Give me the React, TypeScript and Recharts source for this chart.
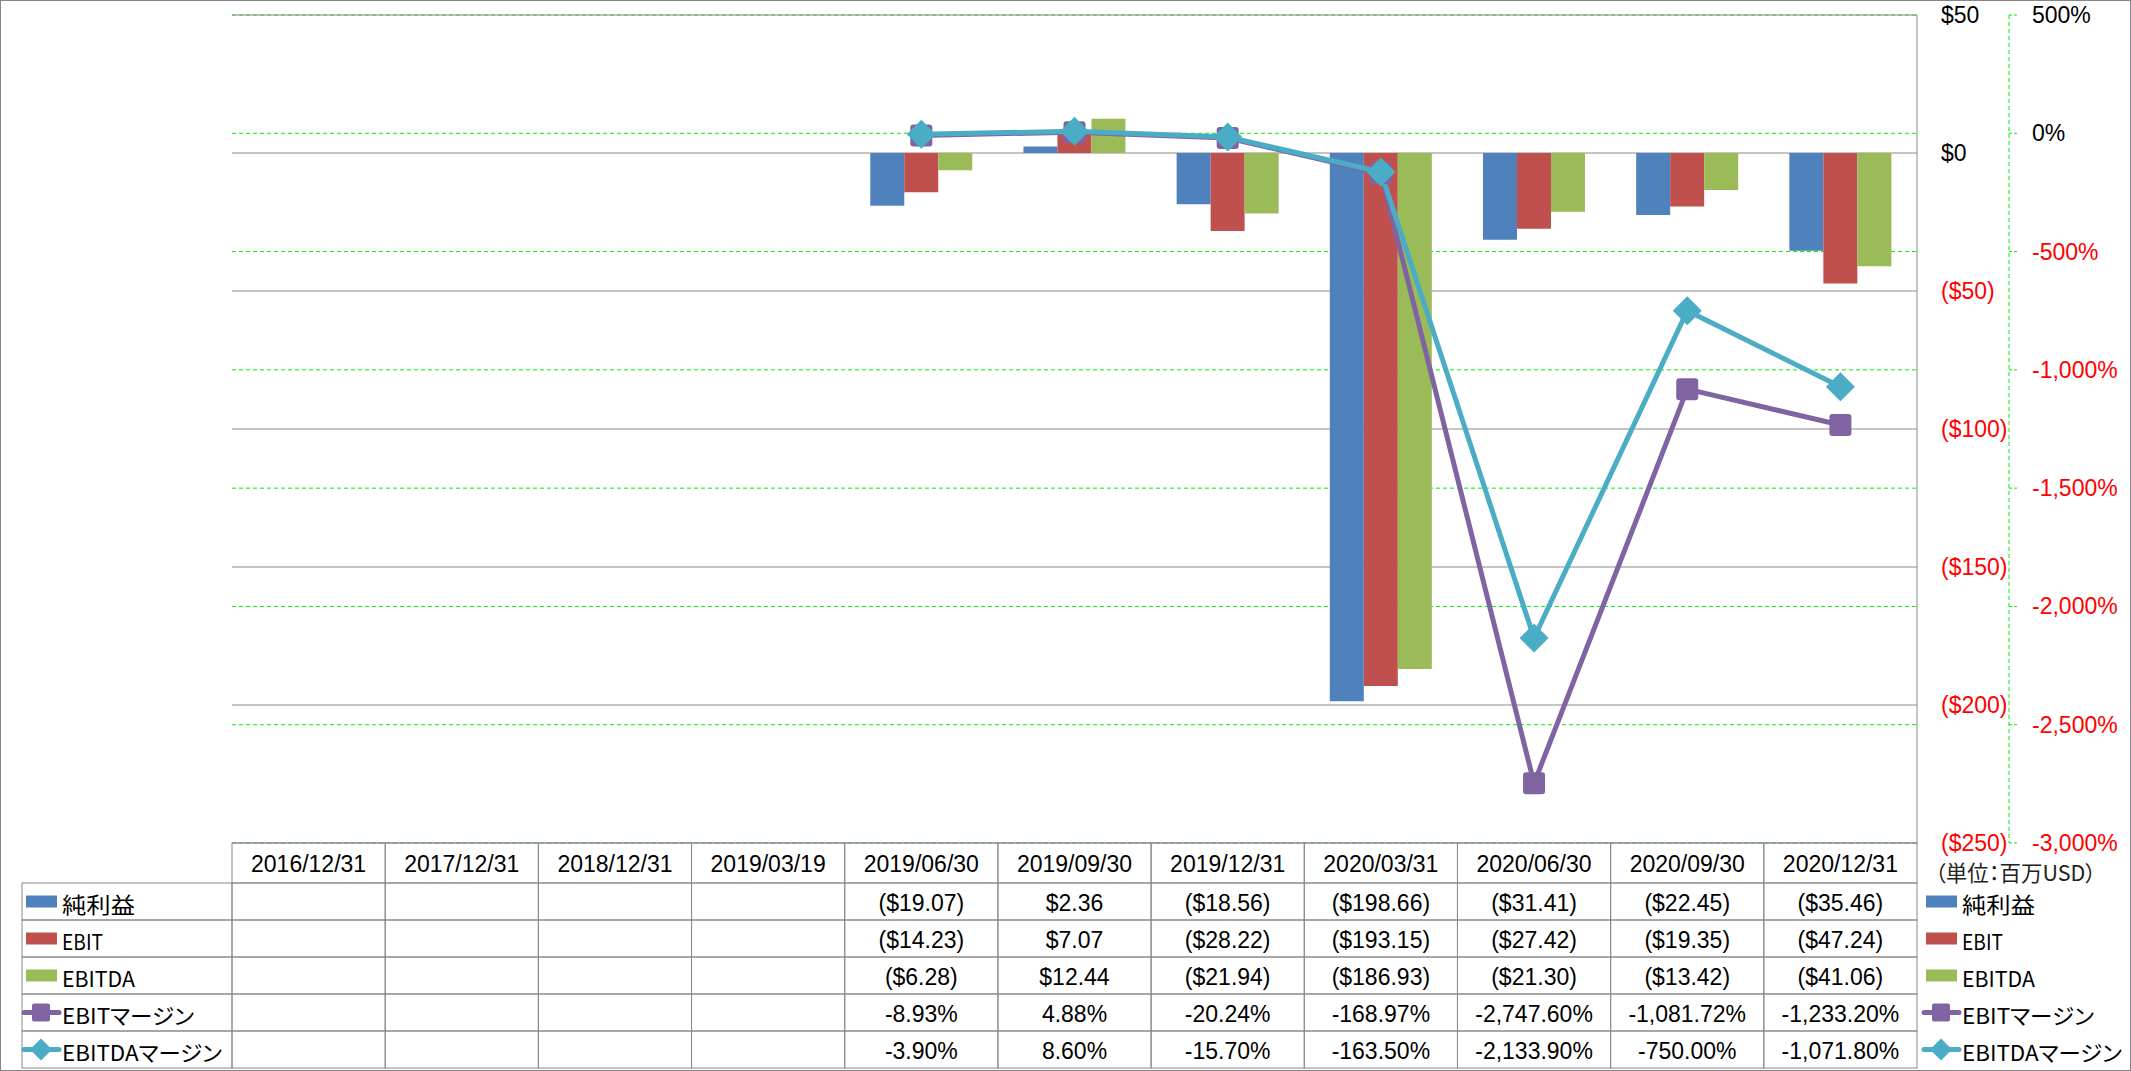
import React from 'react';
import { ComposedChart, Bar, Line, XAxis, YAxis, CartesianGrid } from 'recharts';

const categories = ['2016/12/31', '2017/12/31', '2018/12/31', '2019/03/19', '2019/06/30', '2019/09/30', '2019/12/31', '2020/03/31', '2020/06/30', '2020/09/30', '2020/12/31'];
const netIncome = [null, null, null, null, -19.07, 2.36, -18.56, -198.66, -31.41, -22.45, -35.46];
const ebit = [null, null, null, null, -14.23, 7.07, -28.22, -193.15, -27.42, -19.35, -47.24];
const ebitda = [null, null, null, null, -6.28, 12.44, -21.94, -186.93, -21.3, -13.42, -41.06];
const ebitMargin = [null, null, null, null, -8.93, 4.88, -20.24, -168.97, -2747.6, -1081.72, -1233.2];
const ebitdaMargin = [null, null, null, null, -3.9, 8.6, -15.7, -163.5, -2133.9, -750.0, -1071.8];
const usdTicks = [50, 0, -50, -100, -150, -200, -250];
const pctTicks = [500, 0, -500, -1000, -1500, -2000, -2500, -3000];
const unitNote = '（単位：百万USD）';

const FONT = '"Liberation Sans", Arial, "Noto Sans CJK JP", sans-serif';
const JP_FONT = '"Noto Sans CJK JP", sans-serif';
const GRID_GRAY = '#8a8a8a';
const GREEN = '#00ee00';
const RED = '#ff0000';

// rendered widths of the legend labels (styling only)
const legendTextWidth: Record<string, number> = { ni: 73, ebit: 41, ebitda: 73, ebitM: 132, ebitdaM: 160 };

type Series = { key: string; name: string; color: string; kind: 'bar' | 'square' | 'diamond'; values: (number | null)[]; fmt: (v: number | null) => string };

const fmtUsd = (v: number | null) => (v == null ? '' : v < 0 ? `($${Math.abs(v).toFixed(2)})` : `$${v.toFixed(2)}`);
const fmtPct = (v: number | null) =>
  v == null ? '' : `${v < 0 ? '-' : ''}${Math.abs(v).toLocaleString('en-US', { minimumFractionDigits: 2, maximumFractionDigits: 2 })}%`;

const series: Series[] = [
  { key: 'ni', name: '純利益', color: '#4F81BD', kind: 'bar', values: netIncome, fmt: fmtUsd },
  { key: 'ebit', name: 'EBIT', color: '#C0504D', kind: 'bar', values: ebit, fmt: fmtUsd },
  { key: 'ebitda', name: 'EBITDA', color: '#9BBB59', kind: 'bar', values: ebitda, fmt: fmtUsd },
  { key: 'ebitM', name: 'EBITマージン', color: '#8064A2', kind: 'square', values: ebitMargin, fmt: fmtPct },
  { key: 'ebitdaM', name: 'EBITDAマージン', color: '#4BACC6', kind: 'diamond', values: ebitdaMargin, fmt: fmtPct },
];

const data = categories.map((c, i) => {
  const row: Record<string, any> = { cat: c };
  series.forEach((s) => {
    row[s.key] = s.values[i];
  });
  return row;
});

const HEADER_H = 40;
const ROW_H = 37;
const LEGEND_COL_W = 210;

const LegendKey = ({ s, x, cy }: { s: Series; x: number; cy: number }) => {
  if (s.kind === 'bar') {
    return <rect x={x + 2} y={cy - 6} width={31} height={12} fill={s.color} />;
  }
  const mid = x + 17;
  return (
    <g>
      <line x1={x} x2={x + 35} y1={cy} y2={cy} stroke={s.color} strokeWidth={5} strokeLinecap="round" />
      {s.kind === 'square' ? (
        <rect x={mid - 9} y={cy - 9} width={18} height={18} rx={2} fill={s.color} />
      ) : (
        <polygon points={`${mid},${cy - 11} ${mid + 11},${cy} ${mid},${cy + 11} ${mid - 11},${cy}`} fill={s.color} />
      )}
    </g>
  );
};

const LegendLabel = ({ s, x, cy }: { s: Series; x: number; cy: number }) => (
  <text
    x={x}
    y={cy + 1}
    dominantBaseline="central"
    fontFamily={JP_FONT}
    fontSize={22}
    fill="#000"
    style={{ fontFeatureSettings: '"palt"' }}
    textLength={legendTextWidth[s.key]}
    lengthAdjust="spacingAndGlyphs"
  >
    {s.name}
  </text>
);

const TableTick = (props: any) => {
  const { x, y, payload, index } = props;
  const half = payload && payload.offset ? payload.offset : 76.6;
  const left = x - half;
  const right = x + half;
  const i = payload.index ?? index;
  const last = i === categories.length - 1;
  const rowsTop = y + HEADER_H;
  return (
    <g>
      <rect x={left} y={y} width={half * 2} height={HEADER_H} fill="none" stroke={GRID_GRAY} strokeWidth={1} />
      <text x={x} y={y + HEADER_H / 2 + 1} textAnchor="middle" dominantBaseline="central" fontFamily={FONT} fontSize={23} fill="#000">
        {payload.value}
      </text>
      {series.map((s, r) => (
        <g key={s.key}>
          <rect x={left} y={rowsTop + r * ROW_H} width={half * 2} height={ROW_H} fill="none" stroke={GRID_GRAY} strokeWidth={1} />
          <text x={x} y={rowsTop + r * ROW_H + ROW_H / 2 + 1} textAnchor="middle" dominantBaseline="central" fontFamily={FONT} fontSize={23} fill="#000">
            {s.fmt(s.values[i])}
          </text>
        </g>
      ))}
      {i === 0 &&
        series.map((s, r) => (
          <g key={'l' + s.key}>
            <rect x={left - LEGEND_COL_W} y={rowsTop + r * ROW_H} width={LEGEND_COL_W} height={ROW_H} fill="none" stroke={GRID_GRAY} strokeWidth={1} />
            <LegendKey s={s} x={left - 208} cy={rowsTop + r * ROW_H + ROW_H / 2} />
            <LegendLabel s={s} x={left - 170} cy={rowsTop + r * ROW_H + ROW_H / 2} />
          </g>
        ))}
      {last && (
        <g>
          <text
            x={right + 18}
            y={y + 28}
            dominantBaseline="central"
            fontFamily={JP_FONT}
            fontSize={21.5}
            fill="#222"
            style={{ fontFeatureSettings: '"palt"' }}
          >
            {unitNote}
          </text>
          {series.map((s, r) => (
            <g key={'r' + s.key}>
              <LegendKey s={s} x={right + 7} cy={rowsTop + r * ROW_H + ROW_H / 2} />
              <LegendLabel s={s} x={right + 45} cy={rowsTop + r * ROW_H + ROW_H / 2} />
            </g>
          ))}
        </g>
      )}
    </g>
  );
};

const UsdTick = (props: any) => {
  const { x, y, payload } = props;
  const v = payload.value as number;
  const label = v < 0 ? `($${Math.abs(v)})` : `$${v}`;
  return (
    <text x={x} y={y} textAnchor="start" dominantBaseline="central" fontFamily={FONT} fontSize={23} fill={v < 0 ? RED : '#000'}>
      {label}
    </text>
  );
};

const PctTick = (props: any) => {
  const { x, y, payload } = props;
  const v = payload.value as number;
  return (
    <text x={x} y={y} textAnchor="start" dominantBaseline="central" fontFamily={FONT} fontSize={23} fill={v < 0 ? RED : '#000'}>
      {`${v.toLocaleString('en-US')}%`}
    </text>
  );
};

const SquareDot = (props: any) => {
  const { cx, cy, index } = props;
  if (cx == null || cy == null || isNaN(cy)) return <g key={'sq' + index} />;
  return <rect key={'sq' + index} x={cx - 11} y={cy - 11} width={22} height={22} rx={3} fill="#8064A2" />;
};

const DiamondDot = (props: any) => {
  const { cx, cy, index } = props;
  if (cx == null || cy == null || isNaN(cy)) return <g key={'dm' + index} />;
  const h = 14.5;
  return <polygon key={'dm' + index} points={`${cx},${cy - h} ${cx + h},${cy} ${cx},${cy + h} ${cx - h},${cy}`} fill="#4BACC6" />;
};

export default function App() {
  return (
    <div style={{ position: 'absolute', left: 0, top: 0, width: 2131, height: 1071, background: '#fff' }}>
      <ComposedChart
        width={2131}
        height={1071}
        data={data}
        margin={{ top: 15, right: 0, bottom: 0, left: 232 }}
        barCategoryGap="16.67%"
        barGap={0}
      >
        <CartesianGrid yAxisId="b_pct" vertical={false} stroke={GREEN} strokeDasharray="4 3" />
        <CartesianGrid yAxisId="a_usd" vertical={false} stroke={GRID_GRAY} strokeDasharray="" />
        <XAxis dataKey="cat" height={228} interval={0} axisLine={false} tickLine={false} tickSize={0} tickMargin={0} tick={<TableTick />} />
        <YAxis
          yAxisId="a_usd"
          orientation="right"
          width={92}
          domain={[-250, 50]}
          ticks={usdTicks}
          allowDataOverflow
          axisLine={{ stroke: GRID_GRAY }}
          tickLine={false}
          tickSize={6}
          tickMargin={18}
          tick={<UsdTick />}
        />
        <YAxis
          yAxisId="b_pct"
          orientation="right"
          width={122}
          domain={[-3000, 500]}
          ticks={pctTicks}
          allowDataOverflow
          axisLine={{ stroke: GREEN, strokeDasharray: '4 3' }}
          tickLine={{ stroke: GREEN, strokeDasharray: '3 2' }}
          tickSize={8}
          tickMargin={15}
          tick={<PctTick />}
        />
        {series
          .filter((s) => s.kind === 'bar')
          .map((s) => (
            <Bar key={s.key} yAxisId="a_usd" dataKey={s.key} name={s.name} fill={s.color} isAnimationActive={false} />
          ))}
        <Line
          yAxisId="b_pct"
          dataKey="ebitM"
          name="EBITマージン"
          stroke="#8064A2"
          strokeWidth={5}
          type="linear"
          dot={<SquareDot />}
          activeDot={false}
          isAnimationActive={false}
        />
        <Line
          yAxisId="b_pct"
          dataKey="ebitdaM"
          name="EBITDAマージン"
          stroke="#4BACC6"
          strokeWidth={5}
          type="linear"
          dot={<DiamondDot />}
          activeDot={false}
          isAnimationActive={false}
        />
      </ComposedChart>
      <div style={{ position: 'absolute', left: 0, top: 0, width: 2131, height: 1071, border: '1px solid #868686', boxSizing: 'border-box', pointerEvents: 'none' }} />
    </div>
  );
}
